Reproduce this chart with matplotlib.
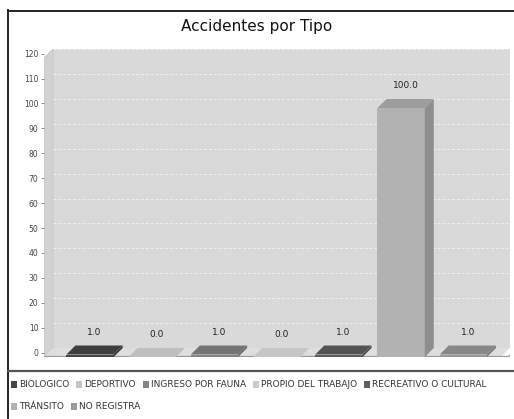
import numpy as np
import matplotlib.pyplot as plt
from matplotlib.patches import Polygon, Rectangle
from matplotlib.lines import Line2D

# Accident counts per type
tipos = ["BIOLOGICO", "DEPORTIVO", "INGRESO POR FAUNA", "PROPIO DEL TRABAJO",
         "RECREATIVO O CULTURAL", "TRÁNSITO", "NO REGISTRA"]
valores = [1.0, 0.0, 1.0, 0.0, 1.0, 100.0, 1.0]
colores = ["#454545", "#c4c4c4", "#858585", "#cccccc", "#5e5e5e", "#b2b2b2", "#9a9a9a"]
y_ticks = list(range(0, 121, 10))

W, H = 514, 419
fig = plt.figure(figsize=(W / 100, H / 100), dpi=100)

# plot box in pixels (left, right, top, bottom)
px_l, px_r, px_t, px_b = 44, 510, 49, 357
ax = fig.add_axes([px_l / W, (H - px_b) / H, (px_r - px_l) / W, (px_b - px_t) / H])

x0, x1 = -0.74, 6.75
py = 2.49                     # pixels per unit
ytop = (px_b - px_t) / py
ax.set_xlim(x0, x1)
ax.set_ylim(0, ytop)
dx = 9 / ((px_r - px_l) / (x1 - x0))   # depth offset in data units
dy = 9 / py
ancho = 0.76

def shade(c, f):
    rgb = np.array(plt.matplotlib.colors.to_rgb(c))
    return tuple(np.clip(rgb * f, 0, 1))

# walls and floor
ax.add_patch(Polygon([(x0 + dx, dy), (x1, dy), (x1, ytop), (x0 + dx, ytop)],
                     closed=True, fc="#d9d9d9", ec="none", zorder=0))
ax.add_patch(Polygon([(x0, 0), (x0 + dx, dy), (x0 + dx, ytop), (x0, ytop - dy)],
                     closed=True, fc="#d2d2d2", ec="#c4c4c4", lw=0.6, zorder=0))
ax.add_patch(Polygon([(x0, 0), (x1 - dx, 0), (x1, dy), (x0 + dx, dy)],
                     closed=True, fc="#dedede", ec="none", zorder=0))
ax.plot([x0, x1 - dx * 0.2], [0, 0], color="#9a9a9a", lw=1.6, zorder=1,
        solid_capstyle="butt")
ax.plot([x1 - dx * 0.2, x1], [0, dy * 0.2], color="#9a9a9a", lw=1.0, zorder=1)

# dashed grid on the back wall
for v in y_ticks[1:]:
    ax.plot([x0 + dx, x1], [v + dy, v + dy], color="white", lw=0.7,
            ls=(0, (3, 2)), alpha=0.6, zorder=0.5)

# 3D bars
for i, (v, c) in enumerate(zip(valores, colores)):
    l, r = i - ancho / 2, i + ancho / 2
    tope = 0.97 if v == 0 else 0.88
    ax.add_patch(Rectangle((l, 0), ancho, v, fc=c, ec="none", zorder=2))
    ax.add_patch(Polygon([(r, 0), (r + dx, dy), (r + dx, v + dy), (r, v)],
                         closed=True, fc=shade(c, 0.8), ec="none", zorder=2))
    ax.add_patch(Polygon([(l, v), (l + dx, v + dy), (r + dx, v + dy), (r, v)],
                         closed=True, fc=shade(c, tope), ec="none", zorder=2))
    ax.text(i + dx / 2, v + dy + 3.5, f"{v:.1f}", ha="center", va="bottom",
            fontsize=6.5, color="#222222", zorder=3)

ax.set_yticks([v + dy / 2 for v in y_ticks], labels=[str(v) for v in y_ticks])
ax.tick_params(axis="y", length=2, width=0.6, color="#777777", labelsize=5.5,
               labelcolor="#444444", pad=2)
ax.set_xticks([])
for s in ax.spines.values():
    s.set_visible(False)

# frame
fig.add_artist(Line2D([8 / W, 1], [1 - 11 / H, 1 - 11 / H], color="#222222", lw=1.4))
fig.add_artist(Line2D([8 / W, 8 / W], [0, 1 - 10 / H], color="#222222", lw=1.4))
fig.add_artist(Line2D([8 / W, 1], [1 - 371 / H, 1 - 371 / H], color="#555555", lw=1.6))

fig.text(0.5, 1 - 26 / H, "Accidentes por Tipo", ha="center", va="center",
         fontsize=11, color="#111111")

# legend laid out in rows from the left
fig.canvas.draw()
renderer = fig.canvas.get_renderer()
x, y = 11, 384
for t, c in zip(tipos, colores):
    txt = fig.text(0, 0, t, fontsize=6.5, color="#333333", va="center")
    w = txt.get_window_extent(renderer).width
    if x + 9 + w > 510:
        x, y = 11, y + 22
    fig.add_artist(Rectangle(((x) / W, 1 - (y + 3.5) / H), 6 / W, 7 / H,
                             transform=fig.transFigure, fc=c, ec="none"))
    txt.set_position(((x + 8) / W, 1 - y / H))
    x += 8 + w + 7

fig.savefig("out.png", dpi=100)
